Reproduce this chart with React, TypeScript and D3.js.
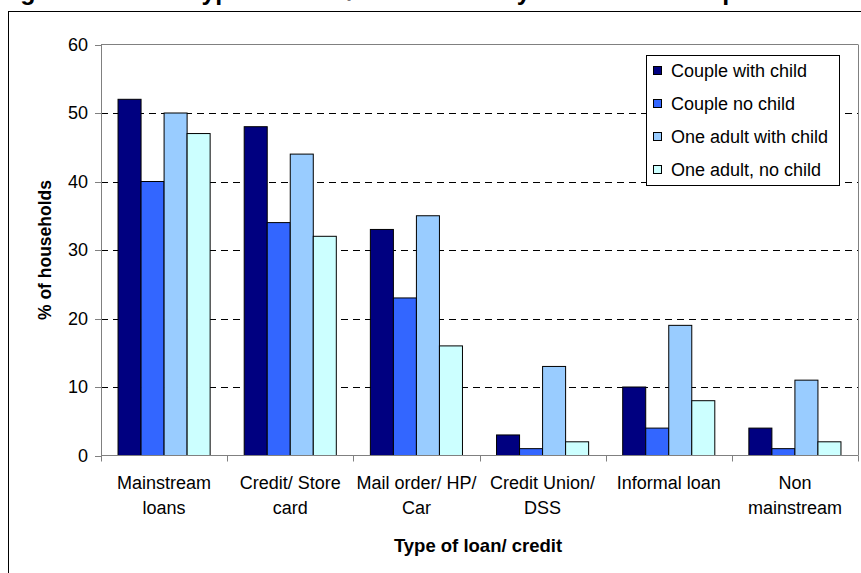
import React from "react";
import * as d3 from "d3";

const categories: string[][] = [
  ["Mainstream", "loans"],
  ["Credit/ Store", "card"],
  ["Mail order/ HP/", "Car"],
  ["Credit Union/", "DSS"],
  ["Informal loan"],
  ["Non", "mainstream"],
];
const seriesNames = [
  "Couple with child",
  "Couple no child",
  "One adult with child",
  "One adult, no child",
];
const coupleWithChild = [52, 48, 33, 3, 10, 4];
const coupleNoChild = [40, 34, 23, 1, 4, 1];
const oneAdultWithChild = [50, 44, 35, 13, 19, 11];
const oneAdultNoChild = [47, 32, 16, 2, 8, 2];
const yTicks = [0, 10, 20, 30, 40, 50, 60];
const colors = ["#000080", "#3366FF", "#99CCFF", "#CCFFFF"];

const seriesValues = [coupleWithChild, coupleNoChild, oneAdultWithChild, oneAdultNoChild];

export default function App() {
  const W = 861;
  const H = 573;
  const left = 101;
  const right = 858;
  const top = 44.5;
  const bottom = 455.5;
  const catKeys = categories.map((_, i) => String(i));
  const x0 = d3.scaleBand<string>().domain(catKeys).range([left, right]).paddingInner(0).paddingOuter(0);
  const bw = x0.bandwidth();
  const x1 = d3
    .scaleBand<string>()
    .domain(seriesNames)
    .range([bw * 0.135, bw * 0.865])
    .padding(0);
  const y = d3.scaleLinear().domain([0, 60]).range([bottom, top]);
  const font = "Arial, 'Liberation Sans', sans-serif";

  return (
    <svg
      width={W}
      height={H}
      style={{ position: "absolute", left: 0, top: 0, background: "#fff" }}
      fontFamily={font}
    >
      {/* title (cut off at top) */}
      <text x={-2} y={0} fontSize={25} fontWeight="bold" fill="#000">
        Figure 4.10:
      </text>
      <text x={188} y={0} fontSize={25} fontWeight="bold" fill="#000">
        Types of loan/ credit used by household composition
      </text>
      {/* outer frame */}
      <rect x={8.5} y={11.5} width={900} height={600} fill="#fff" stroke="#000" strokeWidth={1} />

      {/* gridlines */}
      {yTicks
        .filter((t) => t > 0 && t < 60)
        .map((t) => (
          <line
            key={t}
            x1={left}
            x2={right}
            y1={Math.round(y(t)) + 0.5}
            y2={Math.round(y(t)) + 0.5}
            stroke="#000"
            strokeWidth={1}
            strokeDasharray="7,5"
          />
        ))}
      {/* plot border top/right */}
      <line x1={left} x2={right} y1={top} y2={top} stroke="#808080" strokeWidth={1} />
      <line x1={right + 0.5} x2={right + 0.5} y1={top} y2={bottom} stroke="#808080" strokeWidth={1} />

      {/* bars */}
      {catKeys.map((ck, ci) => (
        <g key={ck} transform={`translate(${x0(ck)},0)`}>
          {seriesNames.map((s, si) => {
            const v = seriesValues[si][ci];
            const bx = x1(s)!;
            return (
              <rect
                key={s}
                x={bx}
                y={y(v)}
                width={x1.bandwidth()}
                height={bottom - y(v)}
                fill={colors[si]}
                stroke="#000"
                strokeWidth={1}
              />
            );
          })}
        </g>
      ))}

      {/* y axis */}
      <line x1={left + 0.5} x2={left + 0.5} y1={top} y2={bottom} stroke="#808080" strokeWidth={1} />
      {yTicks.map((t) => (
        <g key={t}>
          <line x1={left - 6} x2={left} y1={Math.round(y(t)) + 0.5} y2={Math.round(y(t)) + 0.5} stroke="#808080" />
          <text x={88} y={y(t)} dy="0.35em" textAnchor="end" fontSize={18} fill="#000">
            {t}
          </text>
        </g>
      ))}
      {/* x axis */}
      <line x1={left} x2={right} y1={bottom} y2={bottom} stroke="#808080" strokeWidth={1} />
      {[...catKeys.map((k) => x0(k)!), right].map((xv, i) => (
        <line key={i} x1={Math.round(xv) + 0.5} x2={Math.round(xv) + 0.5} y1={bottom} y2={bottom + 6} stroke="#808080" />
      ))}
      {categories.map((lines, ci) => (
        <text
          key={ci}
          x={x0(String(ci))! + bw / 2}
          y={489}
          textAnchor="middle"
          fontSize={18}
          fill="#000"
        >
          {lines.map((l, li) => (
            <tspan key={li} x={x0(String(ci))! + bw / 2} dy={li === 0 ? 0 : 24.5}>
              {l}
            </tspan>
          ))}
        </text>
      ))}

      {/* axis titles */}
      <text x={478} y={552} textAnchor="middle" fontSize={18.5} fontWeight="bold" fill="#000">
        Type of loan/ credit
      </text>
      <text
        transform={`translate(51,250) rotate(-90)`}
        textAnchor="middle"
        fontSize={17.5}
        fontWeight="bold"
        fill="#000"
      >
        % of households
      </text>

      {/* legend */}
      <rect x={646.5} y={55.5} width={193} height={130} fill="#fff" stroke="#000" strokeWidth={1} />
      {seriesNames.map((s, i) => (
        <g key={s} transform={`translate(0,${71 + i * 33})`}>
          <rect x={653.5} y={-4.5} width={8} height={8} fill={colors[i]} stroke="#000" strokeWidth={1} />
          <text x={671} y={0} dy="0.35em" fontSize={18} fill="#000">
            {s}
          </text>
        </g>
      ))}
    </svg>
  );
}
